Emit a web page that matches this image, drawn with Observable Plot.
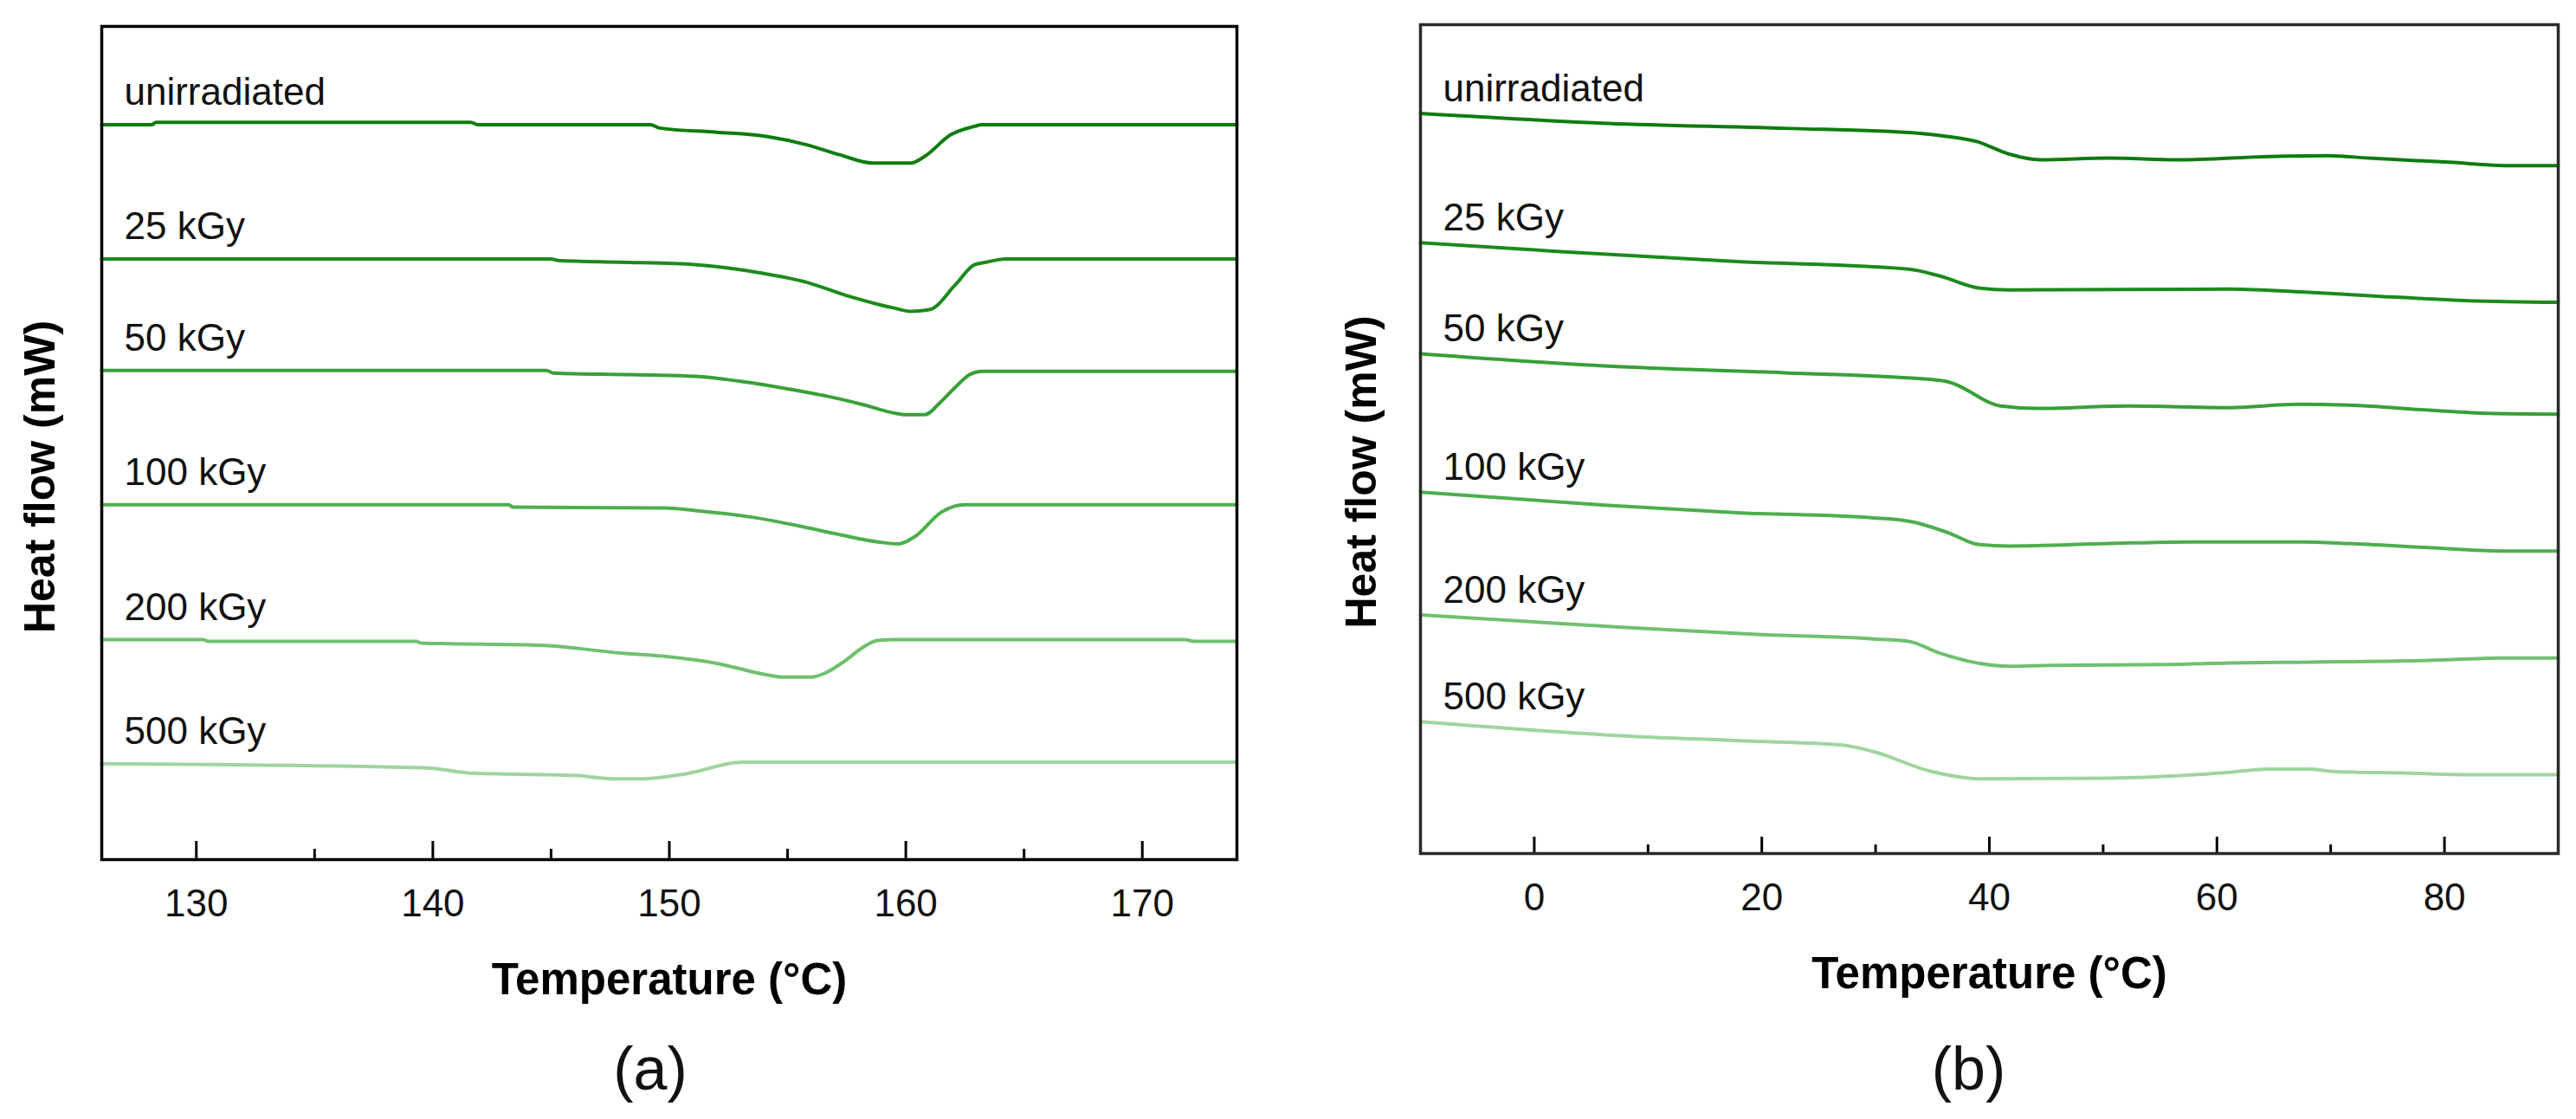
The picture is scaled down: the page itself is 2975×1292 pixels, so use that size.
<!DOCTYPE html>
<html>
<head>
<meta charset="utf-8">
<script src="https://cdn.jsdelivr.net/npm/d3@7"></script>
<script src="https://cdn.jsdelivr.net/npm/@observablehq/plot@0.6"></script>
<style>
  body { margin: 0; background: #fff; }
  #fig { position: relative; width: 2975px; height: 1292px; background: #fff; }
  #panelA { position: absolute; left: 0; top: 0; }
  #panelB { position: absolute; left: 1500px; top: 0; }
</style>
</head>
<body>
<div id="fig"><div id="panelA"></div><div id="panelB"></div></div>
<script>
// Irradiation doses (one DSC trace each), top to bottom
const doses = ["unirradiated", "25 kGy", "50 kGy", "100 kGy", "200 kGy", "500 kGy"];
const doseColors = ["#0e7c0e", "#1c8a1c", "#37a037", "#4dae4d", "#6fc06f", "#9ed59e"];

// (a) melting region: [temperature °C, heat flow (offset, arbitrary units)]
const meltTicks = [130, 140, 150, 160, 170];
const meltMinorTicks = [135, 145, 155, 165];
const meltUnirradiated = [[126,88.2],[128.1,88.2],[128.3,88.5],[141.6,88.5],[141.9,88.2],[149.2,88.2],[149.6,87.8],[152.0,87.3],[154.1,86.8],[155.8,85.8],[157.2,84.6],[158.6,83.6],[160.2,83.6],[160.8,84.4],[161.9,87.0],[162.9,88.0],[163.2,88.2],[174,88.2]];
const melt25 = [[126,72.1],[145.0,72.1],[145.3,71.9],[147.9,71.7],[150.7,71.5],[152.5,71.0],[153.9,70.4],[155.8,69.3],[157.6,67.6],[159.5,66.2],[160.2,65.8],[161.0,66.0],[162.1,69.0],[162.9,71.4],[163.4,71.7],[164.2,72.1],[174,72.1]];
const melt50 = [[126,58.7],[144.8,58.7],[145.1,58.4],[148.3,58.2],[151.1,58.0],[153.0,57.4],[155.0,56.5],[156.7,55.6],[158.2,54.6],[159.5,53.6],[160.0,53.4],[160.8,53.4],[161.5,55.0],[162.2,57.0],[162.7,58.2],[163.2,58.6],[174,58.6]];
const melt100 = [[126,42.6],[143.2,42.6],[143.4,42.3],[149.8,42.2],[151.1,41.9],[153.5,41.1],[155.4,40.1],[157.2,39.0],[158.9,38.1],[159.7,37.9],[160.4,38.8],[161.5,41.7],[162.5,42.6],[174,42.6]];
const melt200 = [[126,26.4],[130.3,26.4],[130.5,26.2],[139.3,26.2],[139.5,26.0],[144.7,25.7],[147.9,24.8],[149.8,24.4],[152.1,23.5],[153.9,22.3],[154.8,21.9],[156.0,21.9],[156.6,22.4],[157.4,23.8],[158.2,25.5],[158.8,26.3],[159.5,26.4],[171.8,26.4],[172.2,26.2],[174,26.2]];
const melt500 = [[126,11.5],[130.9,11.4],[139.8,11.0],[141.5,10.4],[146.0,10.1],[147.7,9.7],[148.8,9.7],[150.7,10.3],[153.1,11.7],[174,11.7]];

// (b) glass-transition region
const glassTicks = [0, 20, 40, 60, 80];
const glassMinorTicks = [10, 30, 50, 70];
const glassUnirradiated = [[-10,89.3],[6.5,88.1],[22.0,87.5],[33.7,86.9],[36.4,86.5],[38.9,85.9],[41.7,84.4],[44.5,83.7],[50.5,83.9],[56.5,83.7],[64.6,84.1],[69.8,84.2],[73.4,83.9],[80.4,83.4],[85.7,83.0],[90,83.0]];
const glass25 = [[-10,73.7],[2.6,72.6],[18.2,71.4],[32.9,70.5],[35.6,69.7],[39.2,68.2],[41.7,68.0],[61.1,68.1],[68.1,67.7],[73.4,67.3],[82.1,66.7],[90,66.5]];
const glass50 = [[-10,60.3],[6.5,58.8],[22.0,58.0],[34.8,57.2],[36.4,56.9],[41.0,54.0],[44.2,53.7],[52.3,54.0],[61.1,53.8],[67.1,54.2],[71.6,54.1],[78.6,53.5],[83.9,53.1],[90,53.0]];
const glass100 = [[-10,43.6],[6.5,42.0],[18.2,41.1],[29.8,40.5],[33.3,40.0],[36.4,38.7],[39.0,37.3],[41.7,37.1],[50.5,37.4],[57.5,37.6],[67.4,37.6],[71.6,37.4],[78.6,36.9],[85.0,36.5],[90,36.5]];
const glass200 = [[-10,28.8],[6.5,27.4],[20.1,26.4],[29.8,25.9],[32.9,25.6],[35.6,24.2],[38.9,23.0],[41.7,22.6],[45.3,22.7],[55.8,22.8],[61.1,23.0],[68.1,23.1],[78.6,23.3],[85.0,23.6],[90,23.6]];
const glass500 = [[-10,15.9],[6.5,14.3],[18.2,13.6],[27.1,13.1],[29.8,12.3],[34.9,9.9],[37.6,9.2],[39.2,9.0],[50.5,9.1],[56.8,9.4],[61.1,9.8],[64.6,10.2],[68.1,10.2],[70.2,9.9],[76.9,9.7],[82.1,9.5],[90,9.5]];

const FONT = "'Liberation Sans', Arial, Helvetica, sans-serif";

function dscPanel(o) {
  const rows = o.series.flatMap((pts, i) => pts.map(([t, hf]) => ({dose: doses[i], t, hf})));
  const starts = o.series.map((pts, i) => ({dose: doses[i], hf: pts[0][1]}));
  return Plot.plot({
    width: o.width,
    height: 1292,
    marginTop: o.marginTop,
    marginRight: o.marginRight,
    marginBottom: o.marginBottom,
    marginLeft: o.marginLeft,
    style: {fontFamily: FONT, background: "#fff", color: "#000", overflow: "visible"},
    x: {domain: o.domain, axis: null},
    y: {domain: [0, 100], axis: null},
    color: {domain: doses, range: doseColors},
    marks: [
      Plot.line(rows, {x: "t", y: "hf", z: "dose", stroke: "dose", strokeWidth: 4, curve: "monotone-x"}),
      Plot.text(starts, {frameAnchor: "left", y: "hf", text: "dose", textAnchor: "start", lineAnchor: "bottom",
        dx: o.labelDx, dy: o.labelDy, fontSize: 44, fill: "#111"}),
      // inward major and minor ticks
      Plot.axisX({ticks: o.ticks, tickSize: -o.majorLen, tickFormat: () => "", strokeWidth: 3, label: null}),
      Plot.axisX({ticks: o.minor, tickSize: -o.minorLen, tickFormat: () => "", strokeWidth: 3, label: null}),
      Plot.axisX({ticks: o.ticks, tickSize: 0, tickPadding: 34, fontSize: 44, label: null, fill: "#111"}),
      Plot.frame({stroke: o.frameColor, strokeWidth: 3.5}),
      Plot.text(["Temperature (°C)"], {frameAnchor: "bottom", lineAnchor: "bottom", dy: 155,
        fontSize: 51, fontWeight: "bold", fill: "#000"}),
      Plot.text(["Heat flow (mW)"], {frameAnchor: "left", rotate: -90, textAnchor: "middle", lineAnchor: "bottom",
        dx: o.yTitleDx, dy: o.yTitleDy, fontSize: 50, fontWeight: "bold", fill: "#000"}),
      Plot.text([o.caption], {frameAnchor: "bottom", lineAnchor: "bottom", dx: o.captionDx, dy: o.captionDy,
        fontSize: 70, fill: "#111"})
    ]
  });
}

document.getElementById("panelA").append(dscPanel({
  series: [meltUnirradiated, melt25, melt50, melt100, melt200, melt500],
  domain: [126, 174], ticks: meltTicks, minor: meltMinorTicks,
  width: 1500, marginTop: 30, marginRight: 72, marginBottom: 300, marginLeft: 117,
  majorLen: 21, minorLen: 12, frameColor: "#000",
  labelDx: 26, labelDy: -23, yTitleDx: -55, yTitleDy: 39,
  caption: "(a)", captionDx: -22, captionDy: 265
}));

document.getElementById("panelB").append(dscPanel({
  series: [glassUnirradiated, glass25, glass50, glass100, glass200, glass500],
  domain: [-10, 90], ticks: glassTicks, minor: glassMinorTicks,
  width: 1475, marginTop: 28, marginRight: 21, marginBottom: 307, marginLeft: 140,
  majorLen: 19, minorLen: 10, frameColor: "#2a2a2a",
  labelDx: 26, labelDy: -14, yTitleDx: -52, yTitleDy: 38,
  caption: "(b)", captionDx: -24, captionDy: 272
}));
</script>
</body>
</html>
